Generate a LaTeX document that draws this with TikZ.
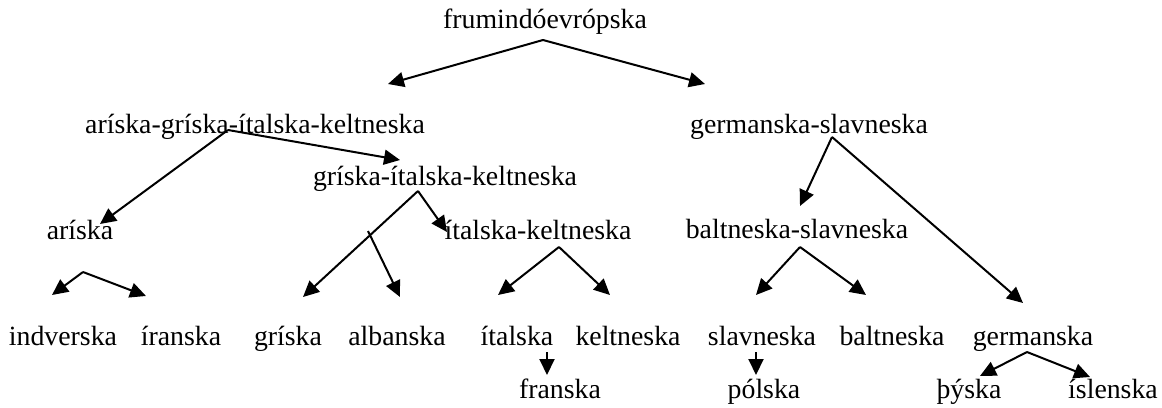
\documentclass[tikz,border=0pt]{standalone}
\usepackage{fontspec}
\setmainfont{Liberation Serif}
\usetikzlibrary{arrows.meta}
\tikzset{
  lang/.style={anchor=base, inner sep=0pt, font=\fontsize{13.9}{16}\selectfont},
  arr/.style={line width=1pt, -{Triangle[length=8pt,width=7.5pt]}}
}

\begin{document}
\begin{tikzpicture}[x=0.5pt, y=-0.5pt]
			%%%%% START %%%%%
			\useasboundingbox (0, 0) rectangle (1162, 407);
			
			% languages
			\node[lang] (root) at (545, 28) {frumindóevrópska};
			\node[lang] (agik) at (255, 133) {aríska-gríska-ítalska-keltneska};
			\node[lang] (gs) at (809, 133) {germanska-slavneska};
			\node[lang] (gik) at (445, 185) {gríska-ítalska-keltneska};
			\node[lang] (ar) at (80, 239) {aríska};
			\node[lang] (ik) at (538, 239) {ítalska-keltneska};
			\node[lang] (bs) at (797, 238) {baltneska-slavneska};
			
			\node[lang] (ind) at (63, 345) {indverska};
			\node[lang] (ir) at (181, 345) {íranska};
			\node[lang] (gr) at (288, 345) {gríska};
			\node[lang] (alb) at (397, 345) {albanska};
			\node[lang] (it) at (517, 345) {ítalska};
			\node[lang] (ke) at (628, 345) {keltneska};
			\node[lang] (sl) at (762, 345) {slavneska};
			\node[lang] (ba) at (892, 345) {baltneska};
			\node[lang] (ge) at (1033, 345) {germanska};
			
			\node[lang] (fr) at (560, 398) {franska};
			\node[lang] (po) at (764, 398) {pólska};
			\node[lang] (th) at (969, 398) {þýska};
			\node[lang] (is) at (1113, 398) {íslenska};
			
			% arrow ends
			\coordinate (root0) at (543, 40);
			\coordinate (agik1) at (388, 84);
			\coordinate (gs1) at (705, 84);
			
			\coordinate (agik0) at (228, 130);
			\coordinate (ar1) at (100, 224);
			\coordinate (gik1) at (400, 160);
			
			\coordinate (gik0) at (418, 191);
			\coordinate (gr1) at (303, 297);
			\coordinate (ik1) at (447, 232);
			\coordinate (alb0) at (368, 231);
			\coordinate (alb1) at (400, 297);
			
			\coordinate (ar0) at (83, 272);
			\coordinate (ind1) at (52, 295);
			\coordinate (ir1) at (146, 296);
			
			\coordinate (ik0) at (559, 247);
			\coordinate (it1) at (498, 295);
			\coordinate (ke1) at (610, 295);
			
			\coordinate (gs0) at (832, 137);
			\coordinate (bs1) at (800, 206);
			\coordinate (ge1) at (1023, 303);
			
			\coordinate (bs0) at (800, 247);
			\coordinate (sl1) at (756, 295);
			\coordinate (ba1) at (866, 295);
			
			\coordinate (it0) at (547, 352);
			\coordinate (fr1) at (547, 375);
			\coordinate (sl0) at (756, 352);
			\coordinate (po1) at (756, 375);
			
			\coordinate (ge0) at (1027, 352);
			\coordinate (th1) at (980, 376);
			\coordinate (is1) at (1090, 377);
			
			% arrows
			\draw[arr] (root0) -- (agik1);
			\draw[arr] (root0) -- (gs1);
			\draw[arr] (agik0) -- (ar1);
			\draw[arr] (agik0) -- (gik1);
			\draw[arr] (gik0) -- (gr1);
			\draw[arr] (gik0) -- (ik1);
			\draw[arr] (alb0) -- (alb1);
			\draw[arr] (ar0) -- (ind1);
			\draw[arr] (ar0) -- (ir1);
			\draw[arr] (ik0) -- (it1);
			\draw[arr] (ik0) -- (ke1);
			\draw[arr] (gs0) -- (bs1);
			\draw[arr] (gs0) -- (ge1);
			\draw[arr] (bs0) -- (sl1);
			\draw[arr] (bs0) -- (ba1);
			\draw[arr] (it0) -- (fr1);
			\draw[arr] (sl0) -- (po1);
			\draw[arr] (ge0) -- (th1);
			\draw[arr] (ge0) -- (is1);
			
			%%%%% END %%%%%
\end{tikzpicture}
\end{document}
